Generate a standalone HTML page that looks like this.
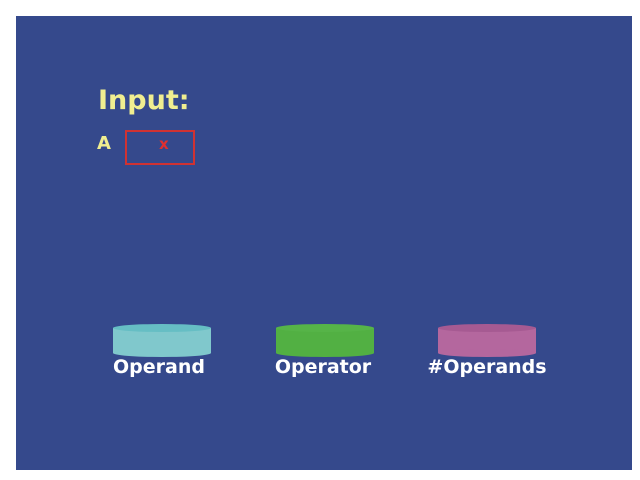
<!DOCTYPE html>
<html><head><meta charset="utf-8"><style>
body{margin:0;background:#fff;width:640px;height:480px;position:relative;overflow:hidden;font-family:"DejaVu Sans","Liberation Sans",sans-serif}
#panel{position:absolute;left:16px;top:16px;width:616px;height:454px;background:#35498c}
.t{position:absolute;white-space:nowrap}
.lbl{position:absolute;color:#fff;font-weight:bold;font-size:19px;transform:translateX(-50%);top:356px}
</style></head><body>
<div id="panel"></div>
<div class="t" style="left:98px;top:85px;font-size:27px;font-weight:bold;color:#f0ee90">Input:</div>
<div class="t" style="left:97px;top:133px;font-size:18px;font-weight:bold;color:#f0ee90">A</div>
<div style="position:absolute;left:125px;top:130px;width:66px;height:31px;border:2px solid #d03232;"></div>
<div class="t" style="left:159px;top:135px;font-size:15px;font-weight:bold;color:#e03030">x</div>
<svg width="640" height="480" style="position:absolute;left:0;top:0">
<g>
<rect x="113" y="328" width="98" height="25" fill="#80c8cc"/><ellipse cx="162" cy="353" rx="49" ry="4" fill="#80c8cc"/><ellipse cx="162" cy="328" rx="49" ry="4" fill="#66bec4"/></g>
<g>
<rect x="276" y="328" width="98" height="25" fill="#52b043"/><ellipse cx="325" cy="353" rx="49" ry="4" fill="#52b043"/><ellipse cx="325" cy="328" rx="49" ry="4" fill="#56b448"/></g>
<g>
<rect x="438" y="328" width="98" height="25" fill="#b4679e"/><ellipse cx="487" cy="353" rx="49" ry="4" fill="#b4679e"/><ellipse cx="487" cy="328" rx="49" ry="4" fill="#a65a92"/></g>
</svg>
<div class="lbl" style="left:159px">Operand</div>
<div class="lbl" style="left:323px">Operator</div>
<div class="lbl" style="left:487px">#Operands</div>
</body></html>
